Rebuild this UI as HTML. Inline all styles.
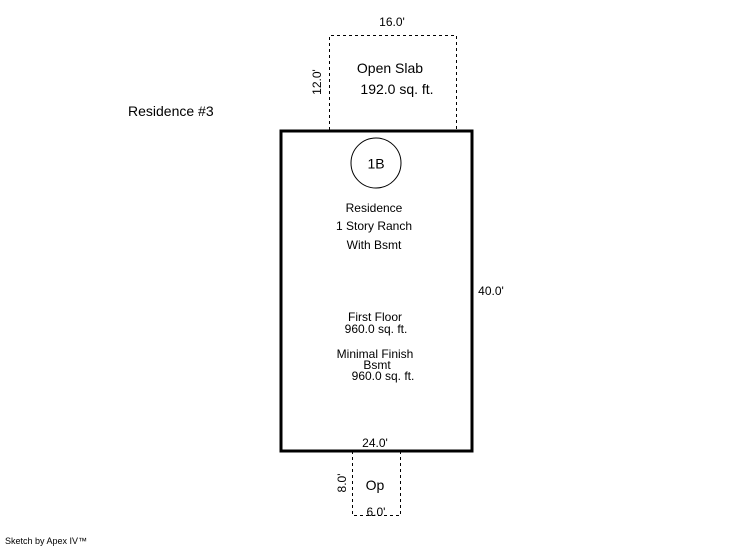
<!DOCTYPE html>
<html><head><style>body{margin:0;background:#fff}</style></head><body>
<svg width="746" height="547" xmlns="http://www.w3.org/2000/svg" font-family="Liberation Sans, sans-serif" fill="#000">
<rect width="746" height="547" fill="#fff"/>
<path d="M329.5 130 V35.5 H456.5 V130" fill="none" stroke="#000" stroke-dasharray="3,3"/>
<path d="M352.5 451 V515.5 H400.5 V451" fill="none" stroke="#000" stroke-dasharray="3,3"/>
<rect x="281" y="131" width="191" height="320" fill="none" stroke="#000" stroke-width="3"/>
<circle cx="376" cy="163" r="25" fill="none" stroke="#000"/>
<text x="376" y="165" font-size="14" text-anchor="middle" dominant-baseline="middle">1B</text>
<text x="392" y="26" font-size="12" text-anchor="middle">16.0'</text>
<text transform="translate(321,82) rotate(-90)" font-size="12" text-anchor="middle">12.0'</text>
<text x="390" y="73" font-size="14" text-anchor="middle">Open Slab</text>
<text x="397" y="94" font-size="14" text-anchor="middle">192.0 sq. ft.</text>
<text x="128" y="116" font-size="14">Residence #3</text>
<text x="374" y="212" font-size="12" text-anchor="middle">Residence</text>
<text x="374" y="230" font-size="12" text-anchor="middle">1 Story Ranch</text>
<text x="374" y="249" font-size="12" text-anchor="middle">With Bsmt</text>
<text x="491" y="295" font-size="12" text-anchor="middle">40.0'</text>
<text x="375" y="321" font-size="12" text-anchor="middle">First Floor</text>
<text x="376" y="333" font-size="12" text-anchor="middle">960.0 sq. ft.</text>
<text x="375" y="358" font-size="12" text-anchor="middle">Minimal Finish</text>
<text x="377" y="369" font-size="12" text-anchor="middle">Bsmt</text>
<text x="383" y="380" font-size="12" text-anchor="middle">960.0 sq. ft.</text>
<text x="375" y="447" font-size="12" text-anchor="middle">24.0'</text>
<text transform="translate(346,483) rotate(-90)" font-size="12" text-anchor="middle">8.0'</text>
<text x="375" y="490" font-size="14" text-anchor="middle">Op</text>
<text x="376" y="516" font-size="12" text-anchor="middle">6.0'</text>
<text x="5" y="544" font-size="9">Sketch by Apex IV™</text>
</svg>
</body></html>
